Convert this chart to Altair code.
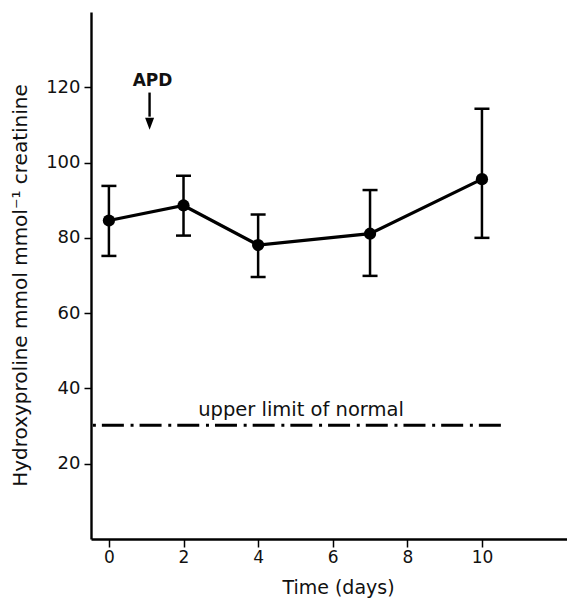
import altair as alt
import pandas as pd

# ---- data ----
days = [0, 2, 4, 7, 10]
mean = [84.6, 88.6, 78.1, 81.1, 95.6]
err_hi = [93.8, 96.5, 86.2, 92.7, 114.3]
err_lo = [75.2, 80.6, 69.6, 69.9, 80.0]

limit_value = 30.2
limit_start = -0.43
limit_end = 10.52
limit_label = "upper limit of normal"
limit_label_x = 5.15
limit_label_y = 32.6

apd_label = "APD"
apd_day = 1.09
apd_label_day = 1.17
apd_label_val = 121.8
arrow_top = 118.6
arrow_base = 112.2
arrow_head_center = 110.3

x_ticks = [0, 2, 4, 6, 8, 10]
y_ticks = [20, 40, 60, 80, 100, 120]

FONT = "DejaVu Sans"
INK = "#111111"

xs = alt.Scale(domain=[-0.48, 12.28], nice=False, zero=False)
ys = alt.Scale(domain=[0, 140], nice=False, zero=False)

main = pd.DataFrame({"day": days, "val": mean, "hi": err_hi, "lo": err_lo})
caps = pd.DataFrame({"day": days + days, "val": err_hi + err_lo})
limit = pd.DataFrame({"day": [limit_start], "day2": [limit_end], "val": [limit_value]})
limit_txt = pd.DataFrame({"day": [limit_label_x], "val": [limit_label_y], "t": [limit_label]})
apd_txt = pd.DataFrame({"day": [apd_label_day], "val": [apd_label_val], "t": [apd_label]})
shaft = pd.DataFrame({"day": [apd_day], "val": [arrow_top], "val2": [arrow_base]})
head = pd.DataFrame({"day": [apd_day], "val": [arrow_head_center]})

X = alt.X("day:Q", scale=xs, axis=alt.Axis(
    values=x_ticks, title="Time (days)", tickSize=8, tickWidth=1.5,
    domainWidth=2.4, labelFontSize=17, labelPadding=2,
    titleFontSize=19, titleFontWeight="normal", titleX=247, titleY=54,
    titleBaseline="alphabetic", titleAlign="center", grid=False))
Y = alt.Y("val:Q", scale=ys, axis=alt.Axis(
    values=y_ticks, title="Hydroxyproline mmol mmol⁻¹ creatinine",
    tickSize=7, tickWidth=1.5, domainWidth=2.4, labelFontSize=18,
    labelPadding=4, titleFontSize=20, titleFontWeight="normal",
    titleX=-71, titleY=273, titleAngle=270, titleBaseline="middle",
    titleAlign="center", grid=False))
Xp = alt.X("day:Q", scale=xs)
Yp = alt.Y("val:Q", scale=ys)

line = alt.Chart(main).mark_line(color="black", strokeWidth=3.2).encode(x=X, y=Y)
bars = alt.Chart(main).mark_rule(color="black", strokeWidth=2.5).encode(
    x=Xp, y=alt.Y("lo:Q", scale=ys), y2="hi:Q")
capm = alt.Chart(caps).mark_tick(color="black", orient="horizontal", size=15,
                                 thickness=2.5, opacity=1).encode(x=Xp, y=Yp)
pts = alt.Chart(main).mark_circle(color="black", size=150, opacity=1).encode(x=Xp, y=Yp)

lim = alt.Chart(limit).mark_rule(color="black", strokeWidth=3,
                                 strokeDash=[3, 6, 22, 6.7]).encode(
    x=Xp, x2="day2:Q", y=Yp)
limt = alt.Chart(limit_txt).mark_text(font=FONT, fontSize=19.5, color=INK,
                                      baseline="alphabetic", align="center").encode(
    x=Xp, y=Yp, text="t:N")
apdt = alt.Chart(apd_txt).mark_text(font=FONT, fontSize=17, fontWeight="bold",
                                    color=INK, baseline="middle", align="center").encode(
    x=Xp, y=Yp, text="t:N")
sh = alt.Chart(shaft).mark_rule(color="black", strokeWidth=2.4).encode(
    x=Xp, y=Yp, y2="val2:Q")
hd = alt.Chart(head).mark_point(shape="M-0.75,-1L0.75,-1L0,1Z", size=144,
                                filled=True, color="black", opacity=1).encode(x=Xp, y=Yp)

chart = alt.layer(line, bars, capm, pts, lim, limt, apdt, sh, hd).properties(
    width=476, height=527,
    autosize=alt.AutoSizeParams(type="none"),
    padding={"left": 83, "top": 4, "right": 0, "bottom": 60},
).configure_view(stroke=None).configure_axis(
    domainColor="black", tickColor="black", labelColor=INK, titleColor=INK,
    labelFont=FONT, titleFont=FONT,
)

chart.save("out.html", embed_options={"renderer": "svg", "actions": False})
